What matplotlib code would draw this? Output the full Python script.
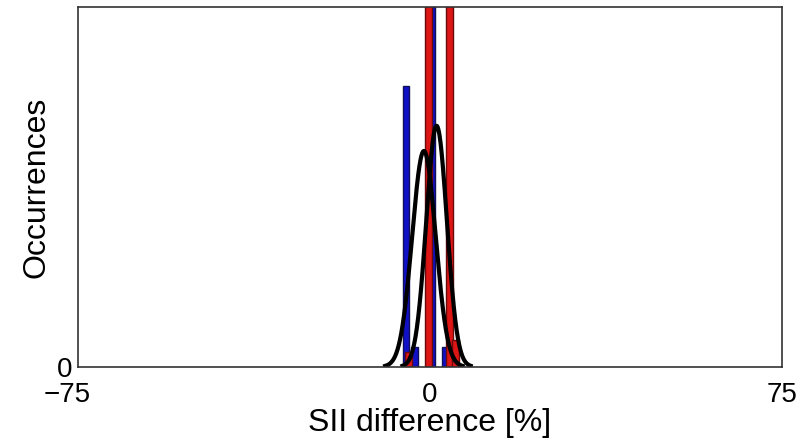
import numpy as np
import matplotlib.pyplot as plt
import matplotlib.transforms as mtransforms

plt.rcParams['font.family'] = ['Liberation Sans', 'DejaVu Sans']

# histogram bars (bin centre in %, occurrences)
blue_x = [-5.1, 0.3, -3.3, 3.2]
blue_h = [78, 200, 5.5, 5.5]
red_x = [-0.3, 4.1, -4.6, 5.4]
red_h = [200, 200, 4, 7.5]

# fitted gaussians: mean, sigma, peak
fit_mu = [-1.3, 1.4]
fit_sigma = [2.5, 2.2]
fit_peak = [60, 67]

fig = plt.figure(figsize=(8.03, 4.43), dpi=100)
ax = fig.add_axes([0.097, 0.172, 0.877, 0.812])

ax.bar(blue_x, blue_h, width=1.4, color='#1010c8', edgecolor='#10105a', linewidth=1)
ax.bar(red_x, red_h, width=1.4, color='#dd1515', edgecolor='#6a0a0a', linewidth=1)

for mu, s, p in zip(fit_mu, fit_sigma, fit_peak):
    xs = np.linspace(mu - 3.3 * s, mu + 3.3 * s, 200)
    ax.plot(xs, p * np.exp(-0.5 * ((xs - mu) / s) ** 2), color='black', linewidth=3)

ax.set_xlim(-75, 75)
ax.set_ylim(0, 100)
ax.set_xticks([-75, 0, 75])
ax.set_xticklabels(['\u221275', '0', '75'])
ax.set_yticks([0])
ax.tick_params(axis='x', length=0, labelsize=20, pad=11)
ax.tick_params(axis='y', length=0, labelsize=20, pad=4)
ax.set_xlabel('SII difference [%]', fontsize=23, labelpad=0)
ax.set_ylabel('Occurrences', fontsize=23, labelpad=4)
for sp in ax.spines.values():
    sp.set_color('#333333')
    sp.set_linewidth(1.2)

# the -75 label sits a bit left of its tick in the original
lbl = ax.get_xticklabels()[0]
lbl.set_transform(lbl.get_transform() + mtransforms.ScaledTranslation(-0.11, 0, fig.dpi_scale_trans))

fig.savefig('out.png', dpi=100)
